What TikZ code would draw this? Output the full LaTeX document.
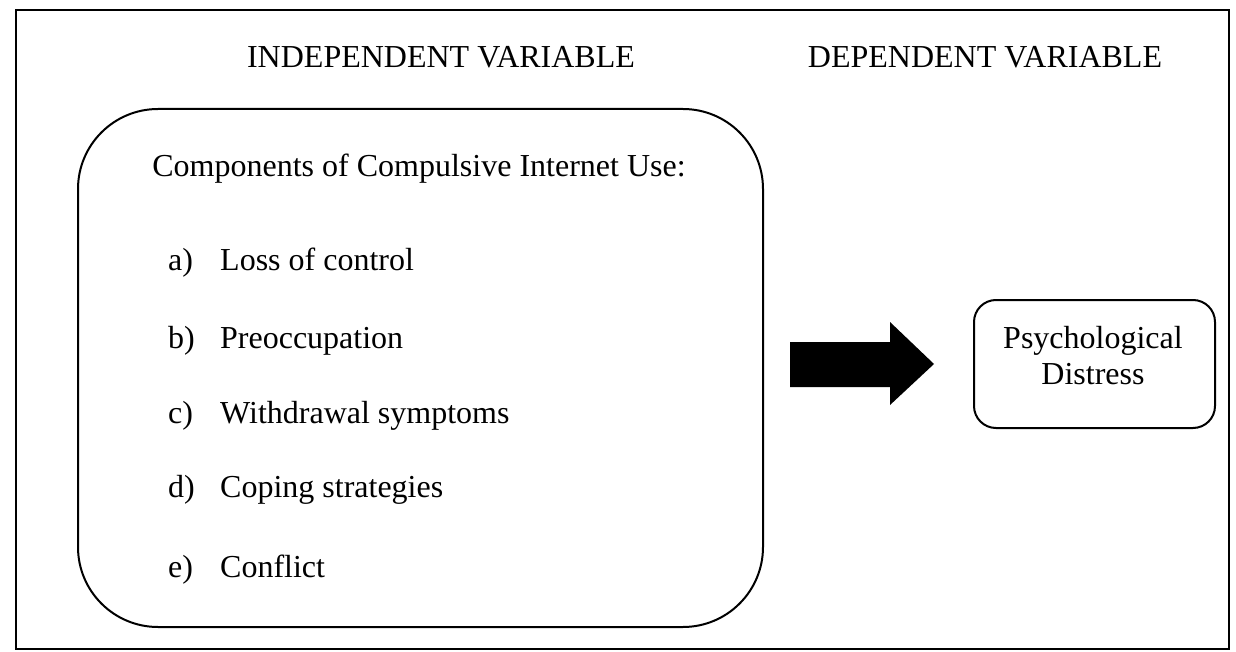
\documentclass[tikz,border=0pt]{standalone}
\usepackage{fontspec}
\setmainfont{Liberation Serif}
\usetikzlibrary{positioning}

\begin{document}
\begin{tikzpicture}[x=1pt,y=-1pt]
	\tikzset{txt/.style={font=\fontsize{32}{38}\selectfont,inner sep=0pt}}
	\tikzset{item/.style={txt,anchor=base west}}
	\tikzset{box/.style={draw,line width=2pt}}
	\useasboundingbox (0,0) rectangle (1236,652);

	%% Outer frame
	\node[box,minimum width=1213pt,minimum height=639pt,anchor=north west] (frame) at (15,9) {};

	%% Headings
	\node[txt,anchor=base] (indep) at (441,68) {INDEPENDENT VARIABLE};
	\node[txt,anchor=base] (dep) at (985,68) {DEPENDENT VARIABLE};

	%% Independent variable box
	\node[box,rounded corners=80pt,minimum width=685pt,minimum height=518pt,anchor=north west] (comp) at (77,108) {};
	\node[txt,anchor=base] (title) at (419,177) {Components of Compulsive Internet Use:};
	\node[item] (a) at (168,270) {\makebox[52pt][l]{a)}Loss of control};
	\node[item] (b) at (168,348) {\makebox[52pt][l]{b)}Preoccupation};
	\node[item] (c) at (168,423) {\makebox[52pt][l]{c)}Withdrawal symptoms};
	\node[item] (d) at (168,497) {\makebox[52pt][l]{d)}Coping strategies};
	\node[item] (e) at (168,577) {\makebox[52pt][l]{e)}Conflict};

	%% Dependent variable box
	\node[box,rounded corners=22pt,minimum width=241pt,minimum height=128pt,anchor=north west] (dist) at (973,299) {};
	\node[txt,anchor=base] (psy) at (1093,348) {Psychological};
	\node[txt,anchor=base] (distr) at (1093,384) {Distress};

	%% Block arrow
	\fill (790,342) -- (890,342) -- (890,322) -- (934,364) -- (890,405) -- (890,387) -- (790,387) -- cycle;
\end{tikzpicture}
\end{document}
